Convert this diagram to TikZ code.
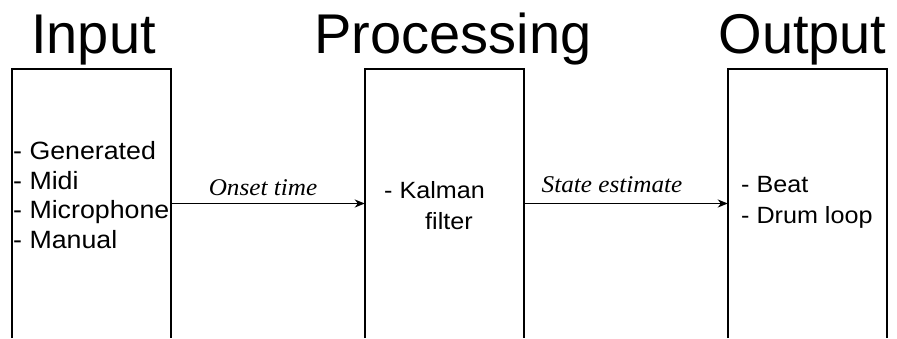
\documentclass[tikz,border=0pt]{standalone}
\usepackage{fontspec}
\setmainfont{Liberation Sans}
\newfontfamily\itemfont[FakeStretch=1.07]{Liberation Sans}
\newfontfamily\labelfont[FakeStretch=1.05]{Liberation Serif}
\usetikzlibrary{arrows.meta}

\begin{document}
\begin{tikzpicture}[x=1pt,y=-1pt,
		stage/.style={rectangle, inner sep=0pt, minimum width=159pt, minimum height=269pt},
		title/.style={anchor=base, inner sep=0pt, font=\fontsize{56}{60}\selectfont},
		items/.style args={#1/#2}{anchor=base west, align=left, inner sep=0pt, font=\itemfont\fontsize{#1}{#2}\selectfont},
		flow/.style={line width=1.5pt, -{Stealth[length=10pt,width=8pt,inset=3pt]}},
		flowlabel/.style={anchor=base, inner sep=0pt, font=\labelfont\itshape\fontsize{24}{28}\selectfont}]
	\useasboundingbox (0,0) rectangle (897,338);
	% stages, open at the bottom
	\node[stage] (in) at (91.5,203.5) {};
	\node[stage] (proc) at (444.5,203.5) {};
	\node[stage] (out) at (807.5,203.5) {};
	\foreach \s in {in,proc,out}
		\draw[line width=1.8pt] (\s.south west) |- (\s.north east) -- (\s.south east);
	% headings
	\node[title] (inT) at (93.5,53) {Input};
	\node[title] (procT) at (453,53) {Processing};
	\node[title] (outT) at (802.5,53) {Output};
	% contents (anchored on their last line)
	\node[items=25/29.5] (inL) at (13,248) {- Generated\\- Midi\\- Microphone\\- Manual};
	\node[items=23.5/31] (procL) at (384,229) {- Kalman\\\hspace*{41pt}filter};
	\node[items=23.5/31] (outL) at (741,223) {- Beat\\- Drum loop};
	% data flow
	\draw[flow] (in.east) -- node[flowlabel, xshift=-5pt, yshift=8pt] {Onset time} (proc.west);
	\draw[flow] (proc.east) -- node[flowlabel, xshift=-14pt, yshift=11pt] {State estimate} (out.west);
\end{tikzpicture}
\end{document}
